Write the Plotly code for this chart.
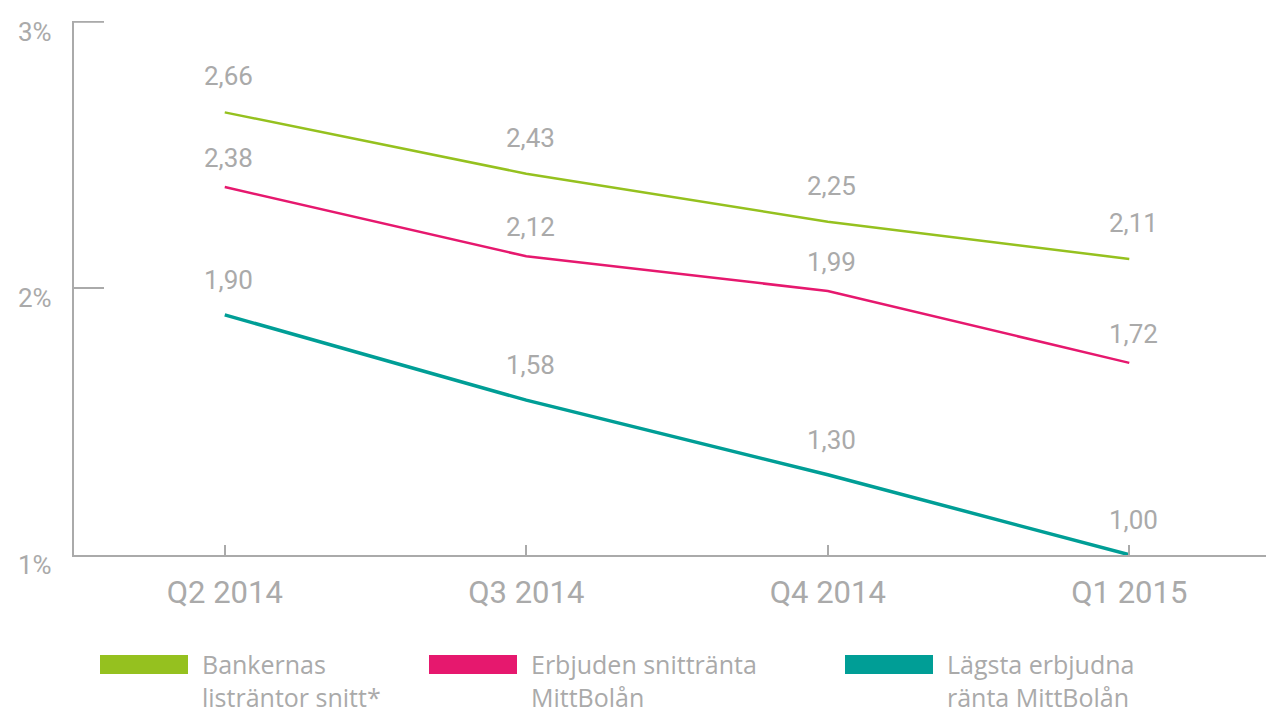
import plotly.graph_objects as go

# -----------------------------
# DATA
# -----------------------------
quarters = ["Q2 2014", "Q3 2014", "Q4 2014", "Q1 2015"]

bank_list_rate = [2.66, 2.43, 2.25, 2.11]
offered_avg_rate = [2.38, 2.12, 1.99, 1.72]
lowest_offered_rate = [1.90, 1.58, 1.30, 1.00]

series_names = [
    "Bankernas<br>listräntor snitt*",
    "Erbjuden snittränta<br>MittBolån",
    "Lägsta erbjudna<br>ränta MittBolån",
]

y_ticks = [1, 2, 3]
y_tick_labels = ["1%", "2%", "3%"]

# -----------------------------
# STYLE
# -----------------------------
GREY = "#aaaaaa"
colors = ["#95c11f", "#e6186e", "#009e96"]
widths = [2.5, 2.5, 3.5]
label_shift = [36, 29, 35]

# page body has an 8px margin, so the figure is drawn 8px in from the corner
OFF = 8
W, H = 1274 - OFF, 712 - OFF
L, T, B = 74 - OFF, 21 - OFF, 157
PLOT_W = W - L
PLOT_H = H - T - B


def px(x):
    # screen pixel -> paper x
    return (x - OFF - L) / PLOT_W


def py(y):
    # screen pixel -> paper y
    return (H - B - (y - OFF)) / PLOT_H


fig = go.Figure()

all_series = [bank_list_rate, offered_avg_rate, lowest_offered_rate]

for values, name, color, width in zip(all_series, series_names, colors, widths):
    fig.add_trace(go.Scatter(
        x=quarters,
        y=values,
        mode="lines",
        name=name,
        line=dict(color=color, width=width),
        showlegend=False,
        cliponaxis=False
    ))

annotations = []

# value labels above each point
for values, shift in zip(all_series, label_shift):
    for q, v in zip(quarters, values):
        annotations.append(dict(
            x=q, y=v, xref="x", yref="y",
            text=f"{v:.2f}".replace(".", ","),
            showarrow=False, yshift=shift, xshift=4,
            font=dict(family="Roboto", size=26, color=GREY)
        ))

# y tick labels sit slightly below their ticks
for t, lab in zip(y_ticks, y_tick_labels):
    annotations.append(dict(
        x=0, y=t, xref="paper", yref="y",
        text=lab, showarrow=False,
        xanchor="right", xshift=-20, yshift=-10,
        font=dict(family="Roboto", size=26, color=GREY)
    ))

shapes = []

# top tick of the y axis (plotly drops the inside tick at the range end)
shapes.append(dict(
    type="line", xref="paper", yref="y",
    x0=0, x1=px(104), y0=y_ticks[-1], y1=y_ticks[-1],
    line=dict(color=GREY, width=2)
))

# custom legend: wide colour bars with two-line labels
legend_x = [100, 429, 845]
for lx, name, color in zip(legend_x, series_names, colors):
    shapes.append(dict(
        type="rect", xref="paper", yref="paper",
        x0=px(lx), x1=px(lx + 88), y0=py(674), y1=py(655),
        fillcolor=color, line=dict(width=0)
    ))
    annotations.append(dict(
        x=px(lx + 100), y=py(645), xref="paper", yref="paper",
        text=name, showarrow=False, xanchor="left", yanchor="top",
        align="left",
        font=dict(family="Open Sans", size=25, color=GREY)
    ))

fig.update_layout(
    width=W, height=H,
    margin=dict(l=L, r=0, t=T, b=B),
    plot_bgcolor="white",
    paper_bgcolor="white",
    showlegend=False,
    xaxis=dict(
        range=[-0.5, 3.48],
        showgrid=False, zeroline=False,
        showline=True, linecolor=GREY, linewidth=2,
        ticks="inside", ticklen=10, tickwidth=2, tickcolor=GREY,
        tickfont=dict(family="Roboto", size=31, color=GREY),
        ticklabelstandoff=9
    ),
    yaxis=dict(
        range=[0.999, 3.003],
        tickvals=y_ticks,
        showticklabels=False,
        showgrid=False, zeroline=False,
        showline=True, linecolor=GREY, linewidth=2,
        ticks="inside", ticklen=30, tickwidth=2, tickcolor=GREY
    ),
    shapes=shapes,
    annotations=annotations
)

fig.write_html("out.html")
